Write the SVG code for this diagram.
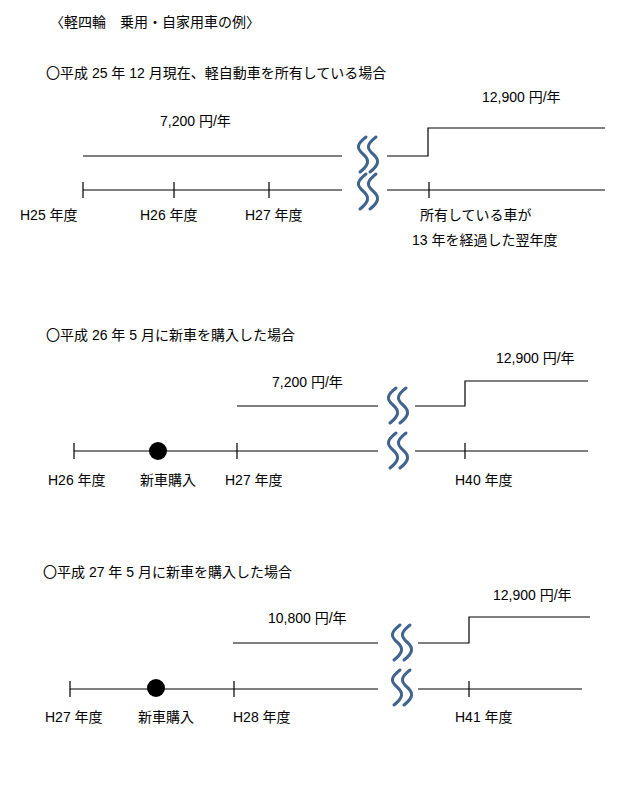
<svg xmlns="http://www.w3.org/2000/svg" width="633" height="785" viewBox="0 0 633 785">
<style>
text{font-family:"Liberation Sans","Noto Sans CJK JP",sans-serif;font-size:14px;fill:#000}
.l{stroke:#000;stroke-width:1.2;fill:none}
.w{stroke:#41648f;stroke-width:3;fill:none;stroke-linecap:round}
</style>
<defs>
<g id="wave">
<path class="w" d="M9,0 C0,7 -1,11 6,17 C13,23 12,28 3,35"/>
<path class="w" d="M19,0 C10,7 9,11 16,17 C23,23 22,28 13,35"/>
</g>
</defs>
<rect width="633" height="785" fill="#fff"/>
<text x="50" y="27">〈軽四輪　乗用・自家用車の例〉</text>
<g id="s1">
<text x="46" y="78">〇平成 25 年 12 月現在、軽自動車を所有している場合</text>
<text x="160" y="126">7,200 円/年</text>
<text x="482" y="102">12,900 円/年</text>
<text x="20" y="220">H25 年度</text>
<text x="140" y="220">H26 年度</text>
<text x="245" y="220">H27 年度</text>
<text x="420" y="220">所有している車が</text>
<text x="412" y="245">13 年を経過した翌年度</text>
</g>
<g id="s2">
<text x="46" y="340">〇平成 26 年 5 月に新車を購入した場合</text>
<text x="272" y="387">7,200 円/年</text>
<text x="496" y="363">12,900 円/年</text>
<text x="48" y="485">H26 年度</text>
<text x="140" y="485">新車購入</text>
<text x="225" y="485">H27 年度</text>
<text x="455" y="485">H40 年度</text>
<circle cx="158" cy="451" r="9"/>
</g>
<g id="s3">
<text x="43" y="577">〇平成 27 年 5 月に新車を購入した場合</text>
<text x="268" y="623">10,800 円/年</text>
<text x="493" y="600">12,900 円/年</text>
<text x="45" y="722">H27 年度</text>
<text x="138" y="722">新車購入</text>
<text x="233" y="722">H28 年度</text>
<text x="455" y="722">H41 年度</text>
<circle cx="156" cy="688" r="9"/>
</g>
<g id="connectors">
<path class="l" d="M83,156H342M387,156H428V128H605"/>
<path class="l" d="M83,190H342M387,190H605M83,182V198M174,182V198M269,182V198M429,182V198"/>
<use href="#wave" x="357" y="137"/>
<use href="#wave" x="357" y="174"/>
<path class="l" d="M237,406H378M415,406H465V381H588"/>
<path class="l" d="M74,451H378M415,451H588M74,443V459M237,443V459M465,443V459"/>
<use href="#wave" x="387" y="388"/>
<use href="#wave" x="387" y="433"/>
<path class="l" d="M233,643H378M418,643H469V617H590"/>
<path class="l" d="M70,689H378M418,689H582M70,681V697M234,681V697M469,681V697"/>
<use href="#wave" x="391" y="625"/>
<use href="#wave" x="391" y="670"/>
</g>
</svg>
